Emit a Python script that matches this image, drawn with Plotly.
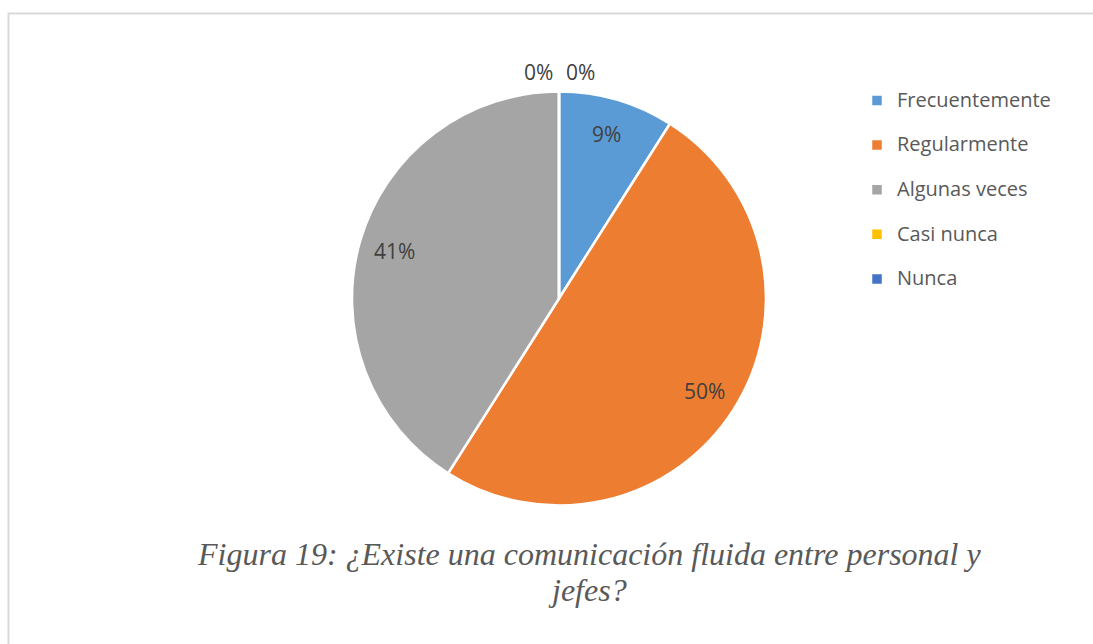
import math
import plotly.graph_objects as go

# Survey answers and their shares
categories = ["Frecuentemente", "Regularmente", "Algunas veces", "Casi nunca", "Nunca"]
values = [9, 50, 41, 0, 0]
colors = ["#5B9BD5", "#ED7D31", "#A5A5A5", "#FFC000", "#4472C4"]
caption_lines = ["Figura 19: ¿Existe una comunicación fluida entre personal y", "jefes?"]

W, H = 1093, 644
CX, CY, R = 559, 298.5, 207          # pie centre / radius in pixels
LABEL_FONT = dict(family="Open Sans", size=21, color="#404040")

# legend entries: a blank second line gives the roomy row spacing
legend_names = [f'<span style="font-size:20px">{c}</span><br> ' for c in categories]

fig = go.Figure(
    go.Pie(
        labels=legend_names,
        values=values,
        sort=False,
        direction="clockwise",
        rotation=0,
        marker=dict(colors=colors, line=dict(color="white", width=2.5)),
        textinfo="none",
        hoverinfo="percent",
        domain=dict(
            x=[(CX - R) / W, (CX + R) / W],
            y=[1 - (CY + R) / H, 1 - (CY - R) / H],
        ),
    )
)

# percentage labels placed along each slice's bisector
total = sum(values)
cum = 0
zero_side = -1
for v in values:
    mid = (cum + v / 2) / total * 2 * math.pi
    cum += v
    if v > 0:
        rad, xshift = 0.83 * R, 0
    else:
        rad, xshift = R + 19, 21 * zero_side
        zero_side = -zero_side
    px = CX + rad * math.sin(mid)
    py = CY - rad * math.cos(mid)
    fig.add_annotation(
        x=px / W, y=1 - py / H, xref="paper", yref="paper",
        xanchor="center", yanchor="middle",
        text=f"{round(100 * v / total)}%", showarrow=False,
        xshift=xshift, font=LABEL_FONT,
    )

# figure caption (line spacing follows the base font size)
caption = "<br>".join(f'<span style="font-size:32px">{s}</span>' for s in caption_lines)
fig.add_annotation(
    x=589 / W, y=1 - 572 / H, xref="paper", yref="paper",
    xanchor="center", yanchor="middle", align="center",
    text=caption, showarrow=False,
    font=dict(family="Liberation Serif", size=27.5, color="#595959", style="italic"),
)

# thin frame around the chart
fig.add_shape(
    type="rect", xref="paper", yref="paper",
    x0=8.5 / W, x1=1.01, y0=-0.01, y1=1 - 13.5 / H,
    line=dict(color="#D9D9D9", width=2), fillcolor="rgba(0,0,0,0)", layer="below",
)

fig.update_layout(
    width=W, height=H,
    margin=dict(l=0, r=0, t=0, b=0),
    paper_bgcolor="white",
    plot_bgcolor="white",
    showlegend=True,
    legend=dict(
        x=857 / W, y=1 - 83.6 / H, xanchor="left", yanchor="top",
        valign="top", bgcolor="rgba(0,0,0,0)",
        font=dict(family="Open Sans", size=16, color="#595959"),
    ),
)

fig.write_html("out.html")
